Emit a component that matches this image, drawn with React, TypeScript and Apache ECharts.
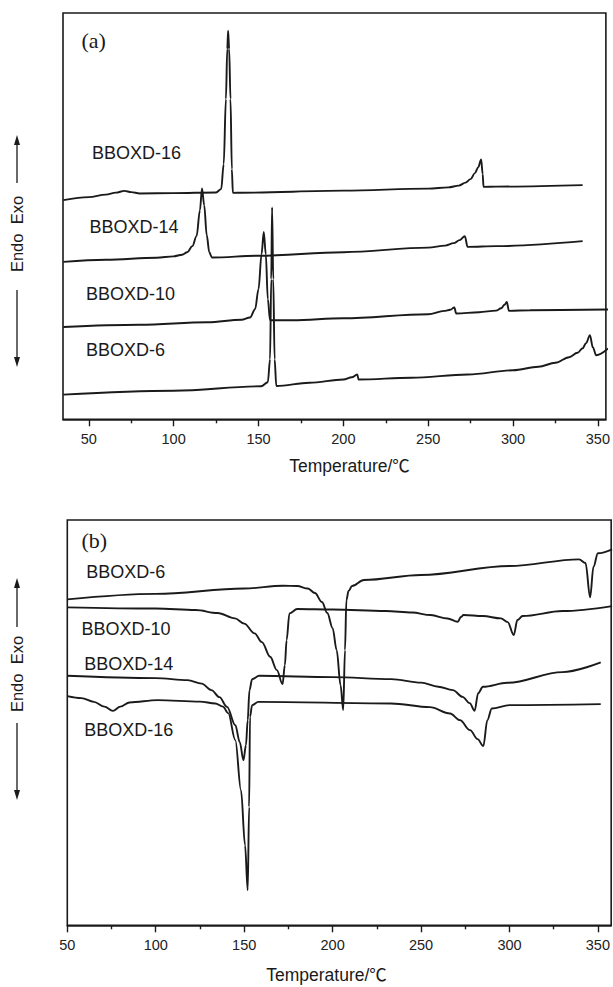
import React, { useEffect, useRef } from "react";
import * as echarts from "echarts";

// ---------- Data (temperature in °C, heat flow in arbitrary units) ----------
const seriesNames = ["BBOXD-16", "BBOXD-14", "BBOXD-10", "BBOXD-6"];
const majorTicks = [50, 100, 150, 200, 250, 300, 350];
const minorTicks = [75, 125, 175, 225, 275, 325];
const xTitle = "Temperature/℃";
const yTitle = "Endo  Exo";
const panelTags = ["(a)", "(b)"];

// Panel (a) – heating curves
const a16T = [35, 50, 60, 66, 71, 75, 80, 100, 125, 128, 129.5, 130.8, 131.6, 132.1, 132.7, 133.5, 134.3, 134.9, 140, 200, 250, 262, 268, 272, 275, 277.5, 279.5, 281.2, 282.1, 282.6, 290, 341];
const a16V = [219, 222, 224.5, 226.5, 228.3, 227, 225.7, 226, 226.7, 230, 255, 320, 370, 388.3, 370, 320, 250, 226.3, 226.4, 228.5, 230.5, 231.8, 233.5, 236.5, 240, 246, 252, 259.7, 245, 232.3, 232.5, 234];
const a14T = [35, 60, 90, 100, 105, 108, 111, 113.5, 115.5, 116.7, 118, 119.5, 121, 122.5, 150, 200, 250, 260, 265, 268.5, 271.6, 273.2, 290, 341];
const a14V = [157.3, 159.5, 161.5, 162.8, 164.5, 167, 173, 183, 209, 230.7, 214, 184, 167, 161.7, 163.5, 167, 171.5, 173.5, 176, 179, 183, 172.3, 173, 178];
const a10T = [35, 80, 120, 140, 145, 148, 150, 151.8, 153.1, 154.3, 155.5, 156.8, 170, 200, 250, 259.5, 263, 265.4, 266.5, 280, 290, 293, 295, 296.3, 297.6, 310, 356];
const a10V = [92.3, 94.5, 97, 99.5, 101.7, 110, 130, 165, 187.3, 165, 120, 99, 99, 101, 105, 108.3, 109.5, 111.7, 105.7, 107, 108.6, 111, 114.5, 117.3, 108.3, 109, 109.7];
const a6T = [35, 100, 151.6, 155.5, 156.8, 157.5, 158, 158.7, 159.5, 160.5, 180, 200.1, 205, 208.2, 209, 240, 273.4, 300, 315, 325, 333, 338, 341, 343, 345.3, 347, 349, 356];
const a6V = [24.7, 28.5, 33, 37, 60, 140, 211.7, 140, 60, 33.3, 36.5, 39.7, 42, 44.7, 39.7, 41.5, 44.7, 49, 52.5, 56.5, 62, 66.5, 71, 76, 84, 72, 64, 70.7];

// Panel (b) – cooling curves
const b16T = [50, 58, 65, 71, 75.8, 80, 85.2, 101, 125, 133.7, 138, 141, 145, 148.2, 150.5, 152, 152.8, 153.3, 154.5, 158, 233, 255, 266.4, 272, 277.7, 282, 285.2, 287.5, 290, 300, 351.6];
const b16V = [229, 227, 223.3, 218.5, 214.3, 218.5, 222.7, 225, 223.5, 221.7, 218.5, 212, 185, 135, 80, 35, 118.3, 208.3, 220, 223.3, 221.7, 218, 211.7, 205, 195, 186, 179, 205, 216.7, 220, 221];
const b14T = [50, 100, 118, 126, 131.5, 136, 140.3, 145, 147.5, 149.6, 151, 152, 153, 154.5, 158.5, 200, 233.2, 250, 259.8, 268, 273.5, 277.5, 280.3, 282.3, 285, 298.8, 330, 351.6];
const b14V = [249.3, 247, 245, 241.5, 235, 228, 218.3, 200, 183, 165, 180, 205, 235, 246, 249.3, 248, 246, 242.5, 238.3, 235, 228.3, 222, 214.3, 232, 238.3, 242.3, 253, 262.7];
const b10T = [50, 100, 122.6, 135, 144.8, 150, 155.9, 160, 164.7, 168.5, 171.7, 173, 174, 175.6, 180, 200, 230, 245, 255.4, 265, 270.8, 272.5, 274, 285, 295.2, 299, 302.4, 304.5, 307.4, 330, 358];
const b10V = [317.7, 316.5, 315, 312, 306.7, 301.5, 291.7, 283, 268.3, 255, 241, 260, 285, 311.7, 316, 315.5, 314, 312.5, 310, 306.5, 303.3, 308, 310, 309, 306.7, 303, 290, 305, 309, 314, 319];
const b6T = [50, 100, 150, 172, 180, 186, 190, 194, 197, 200, 202.3, 204.5, 206, 207, 207.8, 209, 211, 217.7, 250, 300, 339.4, 343, 345.6, 347.5, 350, 358];
const b6V = [325.7, 331.2, 336.5, 339.3, 339, 336.5, 332, 323, 312, 297, 275, 240, 215, 275, 325, 334, 339, 345, 350, 359, 365.7, 362, 327.7, 358.3, 371.7, 375.7];

const panelA = [
  [a16T, a16V],
  [a14T, a14V],
  [a10T, a10V],
  [a6T, a6V],
];
const panelB = [
  [b16T, b16V],
  [b14T, b14V],
  [b10T, b10V],
  [b6T, b6V],
];

const zip = (t: number[], v: number[]) => t.map((x, i) => [x, v[i]]);

const FONT = "'Liberation Sans', Arial, 'Noto Sans CJK SC', sans-serif";
const SERIF = "'Liberation Serif', 'Times New Roman', serif";
const INK = "#1a1a1a";

export default function App() {
  const ref = useRef<HTMLDivElement>(null);

  useEffect(() => {
    if (!ref.current) return;
    const chart = echarts.init(ref.current, undefined, { renderer: "svg" });

    const grids = [
      { left: 63, top: 13, width: 546.5, height: 406.3, xmin: 34.8, xmax: 354.7, ymax: 406 },
      { left: 67.3, top: 520, width: 545.4, height: 405.3, xmin: 50, xmax: 357.5, ymax: 405 },
    ];

    const xAxes: any[] = [];
    const yAxes: any[] = [];
    grids.forEach((g, gi) => {
      xAxes.push({
        gridIndex: gi,
        type: "value",
        min: g.xmin,
        max: g.xmax,
        position: "bottom",
        axisLine: { show: true, onZero: false, lineStyle: { color: INK, width: 1.6 } },
        axisTick: { show: true, inside: false, length: 7, customValues: majorTicks, lineStyle: { color: INK, width: 1.4 } },
        axisLabel: {
          show: true,
          customValues: majorTicks,
          margin: 12,
          fontSize: 14.5,
          color: "#222",
          fontFamily: FONT,
          showMinLabel: true,
          showMaxLabel: true,
        },
        splitLine: { show: false },
      });
      xAxes.push({
        gridIndex: gi,
        type: "value",
        min: g.xmin,
        max: g.xmax,
        position: "bottom",
        axisLine: { show: false, onZero: false },
        axisTick: { show: true, inside: false, length: 4, customValues: minorTicks, lineStyle: { color: INK, width: 1.4 } },
        axisLabel: { show: false },
        splitLine: { show: false },
      });
      yAxes.push({
        gridIndex: gi,
        type: "value",
        min: 0,
        max: g.ymax,
        show: false,
        splitLine: { show: false },
      });
    });

    const series: any[] = [];
    [panelA, panelB].forEach((panel, pi) => {
      panel.forEach(([t, v], si) => {
        series.push({
          name: seriesNames[si] + (pi === 0 ? " heating" : " cooling"),
          type: "line",
          xAxisIndex: pi * 2,
          yAxisIndex: pi,
          data: zip(t, v),
          showSymbol: false,
          smooth: 0.35,
          smoothMonotone: "x",
          lineStyle: { color: INK, width: 1.9 },
          silent: true,
        });
      });
    });

    const labelPosA = [
      [92, 153],
      [89.4, 227],
      [86, 293.5],
      [86, 350],
    ];
    const labelPosB = [
      [84.3, 730],
      [84.3, 663.5],
      [81.6, 628.5],
      [86.3, 572],
    ];

    const graphic: any[] = [];
    const labelStyle = (text: string) => ({ text, font: `18px ${FONT}`, fill: "#1a1a1a", textVerticalAlign: "middle", textAlign: "left" });
    labelPosA.forEach(([x, y], i) => graphic.push({ type: "text", x, y, style: labelStyle(seriesNames[i]) }));
    labelPosB.forEach(([x, y], i) => graphic.push({ type: "text", x, y, style: labelStyle(seriesNames[i]) }));
    // panel tags
    graphic.push({ type: "text", x: 81.5, y: 40, style: { text: panelTags[0], font: `22px ${SERIF}`, fill: "#1a1a1a", textVerticalAlign: "middle" } });
    graphic.push({ type: "text", x: 81.5, y: 540, style: { text: panelTags[1], font: `22px ${SERIF}`, fill: "#1a1a1a", textVerticalAlign: "middle" } });
    // x titles
    graphic.push({ type: "text", x: 349.5, y: 466, style: { text: xTitle, font: `17.5px ${FONT}`, fill: "#1a1a1a", textAlign: "center", textVerticalAlign: "middle" } });
    graphic.push({ type: "text", x: 326.5, y: 975, style: { text: xTitle, font: `17.5px ${FONT}`, fill: "#1a1a1a", textAlign: "center", textVerticalAlign: "middle" } });

    // Endo/Exo side labels with arrows
    const sides = [
      { cy: 234, upFrom: 183, upTip: 135, downFrom: 290, downTip: 367 },
      { cy: 674, upFrom: 627, upTip: 578, downFrom: 723, downTip: 800 },
    ];
    const ax = 17;
    sides.forEach((s) => {
      graphic.push({
        type: "text",
        x: ax,
        y: s.cy,
        rotation: Math.PI / 2,
        style: { text: yTitle, font: `16.5px ${FONT}`, fill: "#1a1a1a", textAlign: "center", textVerticalAlign: "middle" },
      });
      graphic.push({ type: "line", shape: { x1: ax, y1: s.upFrom, x2: ax, y2: s.upTip + 8 }, style: { stroke: INK, lineWidth: 1.3 } });
      graphic.push({ type: "polygon", shape: { points: [[ax, s.upTip], [ax - 3, s.upTip + 10], [ax + 3, s.upTip + 10]] }, style: { fill: INK } });
      graphic.push({ type: "line", shape: { x1: ax, y1: s.downFrom, x2: ax, y2: s.downTip - 8 }, style: { stroke: INK, lineWidth: 1.3 } });
      graphic.push({ type: "polygon", shape: { points: [[ax, s.downTip], [ax - 3, s.downTip - 10], [ax + 3, s.downTip - 10]] }, style: { fill: INK } });
    });

    chart.setOption({
      animation: false,
      backgroundColor: "#ffffff",
      grid: grids.map((g) => ({
        left: g.left,
        top: g.top,
        width: g.width,
        height: g.height,
        show: true,
        borderColor: INK,
        borderWidth: 1.6,
        backgroundColor: "transparent",
        containLabel: false,
      })),
      xAxis: xAxes,
      yAxis: yAxes,
      series,
      graphic,
    });

    return () => chart.dispose();
  }, []);

  return <div ref={ref} style={{ position: "absolute", left: 0, top: 0, width: 613, height: 987 }} />;
}
